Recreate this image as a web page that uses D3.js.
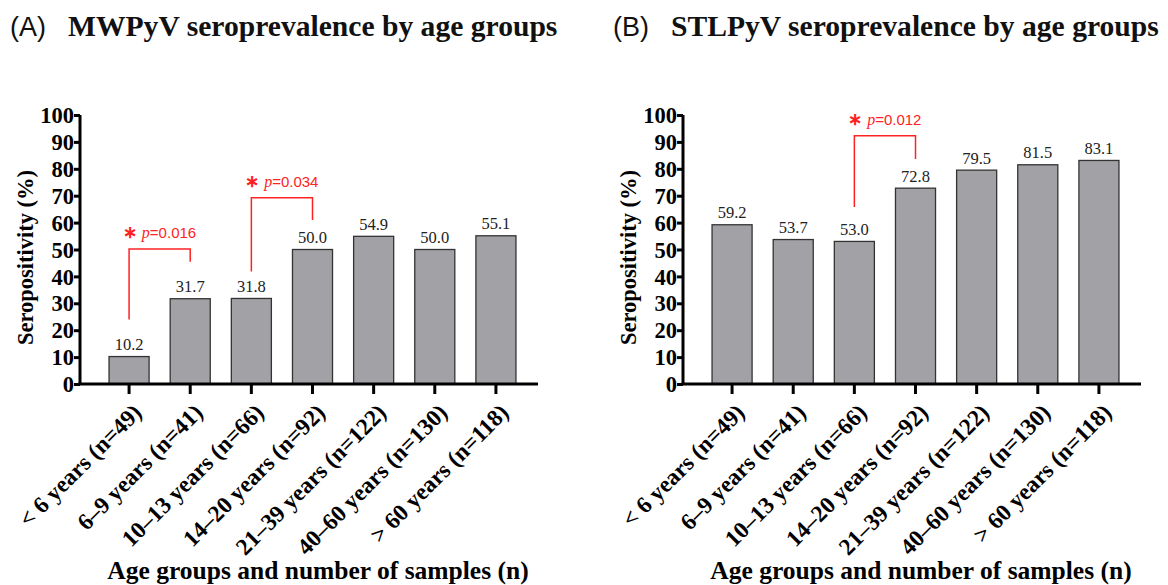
<!DOCTYPE html>
<html><head><meta charset="utf-8">
<script src="https://cdn.jsdelivr.net/npm/d3@7"></script>
<style>body{margin:0;background:#fff}svg{display:block}</style>
</head><body><svg id="c" width="1168" height="585"></svg>
<script>
const categories = ["< 6 years (n=49)", "6–9 years (n=41)", "10–13 years (n=66)", "14–20 years (n=92)", "21–39 years (n=122)", "40–60 years (n=130)", "> 60 years (n=118)"];
const mwpyvValues = [10.2, 31.7, 31.8, 50.0, 54.9, 50.0, 55.1];
const stlpyvValues = [59.2, 53.7, 53.0, 72.8, 79.5, 81.5, 83.1];
const yTicks = [0, 10, 20, 30, 40, 50, 60, 70, 80, 90, 100];
const mwpyvBrackets = [
  {from: 0, to: 1, left: 24, top: 50.2, right: 45.4, p: "0.016"},
  {from: 2, to: 3, left: 41.8, top: 69.2, right: 61.0, p: "0.034"}
];
const stlpyvBrackets = [
  {from: 2, to: 3, left: 65.8, top: 92.3, right: 83.6, p: "0.012"}
];
const panelLetters = ["(A)", "(B)"];
const panelTitles = ["MWPyV seroprevalence by age groups", "STLPyV seroprevalence by age groups"];
const yTitle = "Seropositivity (%)";
const xTitle = "Age groups and number of samples (n)";

const svg = d3.select("#c");
const serif = "'Liberation Serif', 'Times New Roman', serif";
const sans = "'Liberation Sans', Arial, sans-serif";
const red = "#f22";

function panel(ox, letter, title, values, brackets) {
  const g = svg.append("g").attr("transform", `translate(${ox},0)`);
  const axX = 80, axY = 384, topY = 115, axEnd = 538;
  const y = d3.scaleLinear().domain([0, 100]).range([axY, topY]);
  const x = d3.scaleBand().domain(categories).range([98.5, 526.5]).paddingInner(0.345).paddingOuter(0.1725);

  g.append("text").attr("x", 10).attr("y", 36).attr("font-family", sans).attr("font-size", 27).attr("fill", "#111").text(letter);
  g.append("text").attr("x", 68).attr("y", 36).attr("font-family", serif).attr("font-weight", "bold").attr("font-size", 29.6).attr("fill", "#111").text(title);

  // bars
  g.selectAll("rect.bar").data(values).join("rect").attr("class", "bar")
    .attr("x", (d, i) => x(categories[i])).attr("width", x.bandwidth())
    .attr("y", d => y(d)).attr("height", d => y(0) - y(d))
    .attr("fill", "#a2a2a6").attr("stroke", "#333").attr("stroke-width", 1.3);

  g.selectAll("text.val").data(values).join("text").attr("class", "val")
    .attr("x", (d, i) => x(categories[i]) + x.bandwidth() / 2).attr("y", d => y(d) - 6.5)
    .attr("text-anchor", "middle").attr("font-family", serif).attr("font-size", 16.5).attr("fill", "#222")
    .text(d => d.toFixed(1));

  // y axis
  const ya = d3.axisLeft(y).tickValues(yTicks).tickSize(6).tickPadding(0);
  const yg = g.append("g").attr("transform", `translate(${axX},0)`).call(ya);
  yg.select(".domain").attr("stroke", "#000").attr("stroke-width", 3).attr("d", `M0,${axY}V${topY}`);
  yg.selectAll(".tick line").attr("stroke", "#000").attr("stroke-width", 3);
  yg.selectAll(".tick text").attr("font-family", serif).attr("font-weight", "bold").attr("font-size", 22.5).attr("fill", "#000").attr("dy", "0.34em");

  // x axis
  const xa = d3.axisBottom(x).tickSize(10).tickFormat("");
  const xg = g.append("g").attr("transform", `translate(0,${axY})`).call(xa);
  xg.select(".domain").attr("stroke", "#000").attr("stroke-width", 3).attr("d", `M${axX - 1.5},0H${axEnd}`);
  xg.selectAll(".tick line").attr("stroke", "#000").attr("stroke-width", 3);
  g.selectAll("text.xl").data(categories).join("text").attr("class", "xl")
    .attr("transform", d => `translate(${x(d) + x.bandwidth() / 2 + 14},${axY + 30}) rotate(-45)`)
    .attr("text-anchor", "end").attr("font-family", serif).attr("font-weight", "bold").attr("font-size", 23.5).attr("fill", "#000")
    .text(d => d);

  // axis titles
  g.append("text").attr("transform", `translate(33,${(axY + topY) / 2 + 8}) rotate(-90)`)
    .attr("text-anchor", "middle").attr("font-family", serif).attr("font-weight", "bold").attr("font-size", 22.5).attr("fill", "#000").text(yTitle);
  g.append("text").attr("x", 318).attr("y", 579).attr("text-anchor", "middle")
    .attr("font-family", serif).attr("font-weight", "bold").attr("font-size", 25.5).attr("fill", "#000").text(xTitle);

  // significance brackets
  brackets.forEach(b => {
    const x1 = x(categories[b.from]) + x.bandwidth() / 2, x2 = x(categories[b.to]) + x.bandwidth() / 2;
    g.append("path").attr("d", `M${x1},${y(b.left)}V${y(b.top)}H${x2}V${y(b.right)}`)
      .attr("fill", "none").attr("stroke", red).attr("stroke-width", 1.5);
    const t = g.append("text").attr("x", (x1 + x2) / 2).attr("y", y(b.top) - 11).attr("text-anchor", "middle")
      .attr("font-size", 15).attr("fill", red);
    t.append("tspan").attr("font-family", sans).attr("font-weight", "bold").attr("font-size", 17).text("\u2217 ");
    t.append("tspan").attr("font-family", serif).attr("font-style", "italic").attr("font-size", 16).text("p");
    t.append("tspan").attr("font-family", sans).text("=" + b.p);
  });
}

panel(0, panelLetters[0], panelTitles[0], mwpyvValues, mwpyvBrackets);
panel(603, panelLetters[1], panelTitles[1], stlpyvValues, stlpyvBrackets);
</script></body></html>
